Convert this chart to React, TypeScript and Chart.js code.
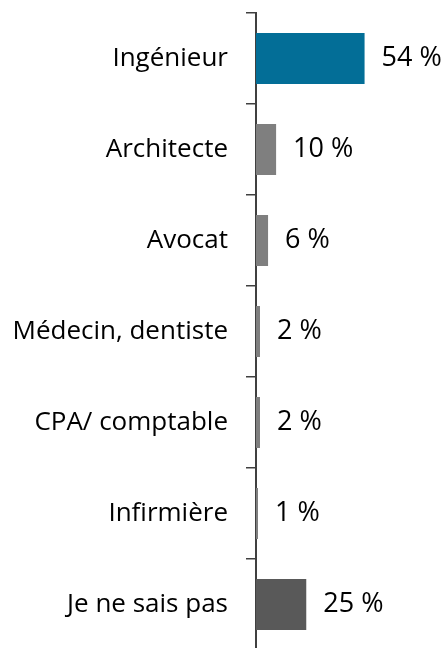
import React, { useEffect, useRef } from "react";
import { Chart, registerables } from "chart.js";

Chart.register(...registerables);

const categories = [
  "Ingénieur",
  "Architecte",
  "Avocat",
  "Médecin, dentiste",
  "CPA/ comptable",
  "Infirmière",
  "Je ne sais pas",
];
const values = [54, 10, 6, 2, 2, 1, 25];
const barColors = ["#036E97", "#7F7F7F", "#7F7F7F", "#7F7F7F", "#7F7F7F", "#7F7F7F", "#595959"];

const FONT = "'Open Sans', 'DejaVu Sans', sans-serif";

const valueLabels = {
  id: "valueLabels",
  afterDatasetsDraw(chart: any) {
    const ctx = chart.ctx;
    const meta = chart.getDatasetMeta(0);
    ctx.save();
    ctx.font = `27px ${FONT}`;
    ctx.fillStyle = "#000";
    ctx.textAlign = "left";
    ctx.textBaseline = "middle";
    meta.data.forEach((el: any, i: number) => {
      ctx.fillText(`${values[i]} %`, el.x + 17, el.y);
    });
    ctx.restore();
  },
};

export default function App() {
  const ref = useRef<HTMLCanvasElement | null>(null);
  useEffect(() => {
    if (!ref.current) return;
    const chart = new Chart(ref.current, {
      type: "bar",
      data: {
        labels: categories,
        datasets: [
          {
            data: values,
            backgroundColor: barColors,
            borderWidth: 0,
            barPercentage: 0.56,
            categoryPercentage: 1,
          },
        ],
      },
      options: {
        indexAxis: "y",
        responsive: false,
        animation: false,
        devicePixelRatio: 1,
        layout: { padding: { top: 13, bottom: 10, left: 0, right: 0 } },
        plugins: {
          legend: { display: false },
          tooltip: { enabled: false },
          title: { display: false },
        },
        scales: {
          x: { display: false, min: 0, max: 95 },
          y: {
            type: "category",
            afterFit(scale: any) {
              scale.width = 256;
              scale.paddingTop = 0;
              scale.paddingBottom = 0;
            },
            grid: {
              display: true,
              drawOnChartArea: false,
              drawTicks: true,
              tickLength: 10,
              color: "#404040",
              lineWidth: 1.5,
              offset: true,
            },
            border: { display: true, color: "#404040", width: 2 },
            ticks: {
              font: { family: FONT, size: 26 },
              color: "#000",
              padding: 18,
            },
          },
        },
      } as any,
      plugins: [valueLabels],
    });
    return () => chart.destroy();
  }, []);
  return (
    <div
      style={{
        position: "fixed",
        top: 0,
        left: 0,
        width: 447,
        height: 648,
        overflow: "hidden",
        background: "#fff",
      }}
    >
      <canvas ref={ref} width={447} height={660} style={{ display: "block" }} />
    </div>
  );
}
